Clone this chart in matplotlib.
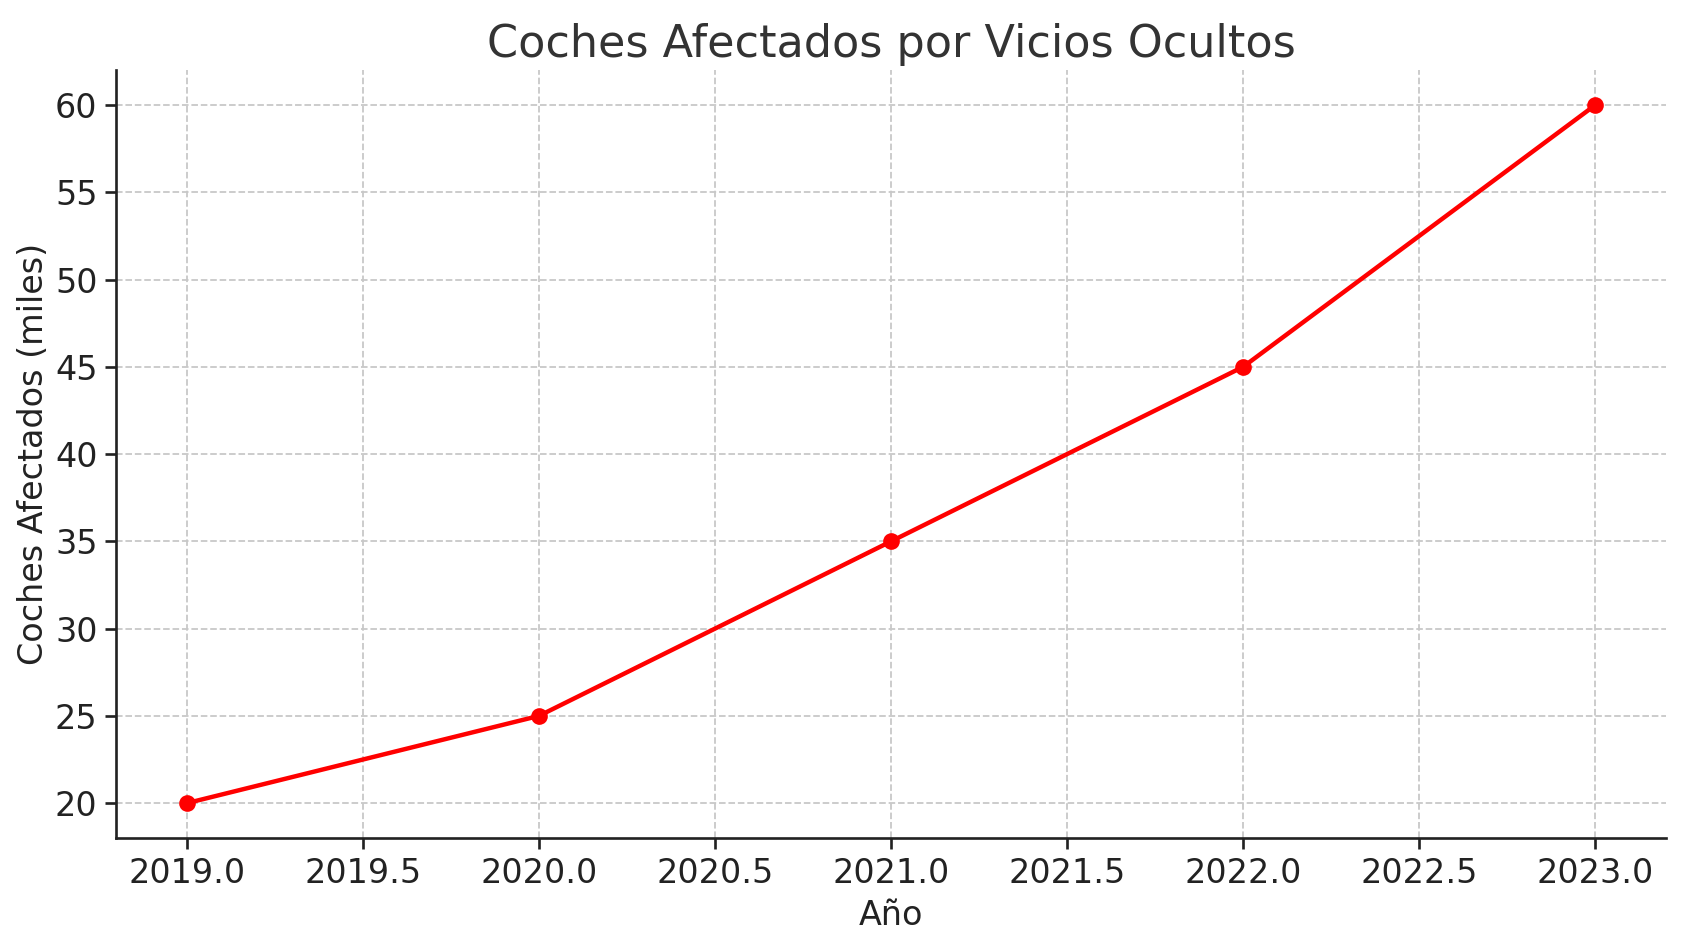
import matplotlib
matplotlib.use("Agg")
import matplotlib.pyplot as plt

years = [2019, 2020, 2021, 2022, 2023]
cars = [20, 25, 35, 45, 60]

plt.rcParams['font.family'] = ['DejaVu Sans']
fig, ax = plt.subplots(figsize=(1686/160, 947/160), dpi=160)
ax.plot(years, cars, color='red', marker='o', linewidth=2, markersize=6.5)
ax.set_title('Coches Afectados por Vicios Ocultos', fontsize=20, color='#333333')
ax.set_xlabel('Año', fontsize=15, color='#222222')
ax.set_ylabel('Coches Afectados (miles)', fontsize=15, color='#222222', labelpad=2)
ax.tick_params(labelsize=15, colors='#222222', length=5, width=1.2)
ax.grid(True, linestyle='--', color='#c8c8c8', linewidth=0.8)
ax.spines['top'].set_visible(False)
ax.spines['right'].set_visible(False)
for s in ('left', 'bottom'):
    ax.spines[s].set_linewidth(1.2)
    ax.spines[s].set_color('#222222')
ax.set_ylim(18, 62)
fig.subplots_adjust(left=0.069, right=0.988, top=0.926, bottom=0.115)
fig.savefig('out.png', dpi=160)
